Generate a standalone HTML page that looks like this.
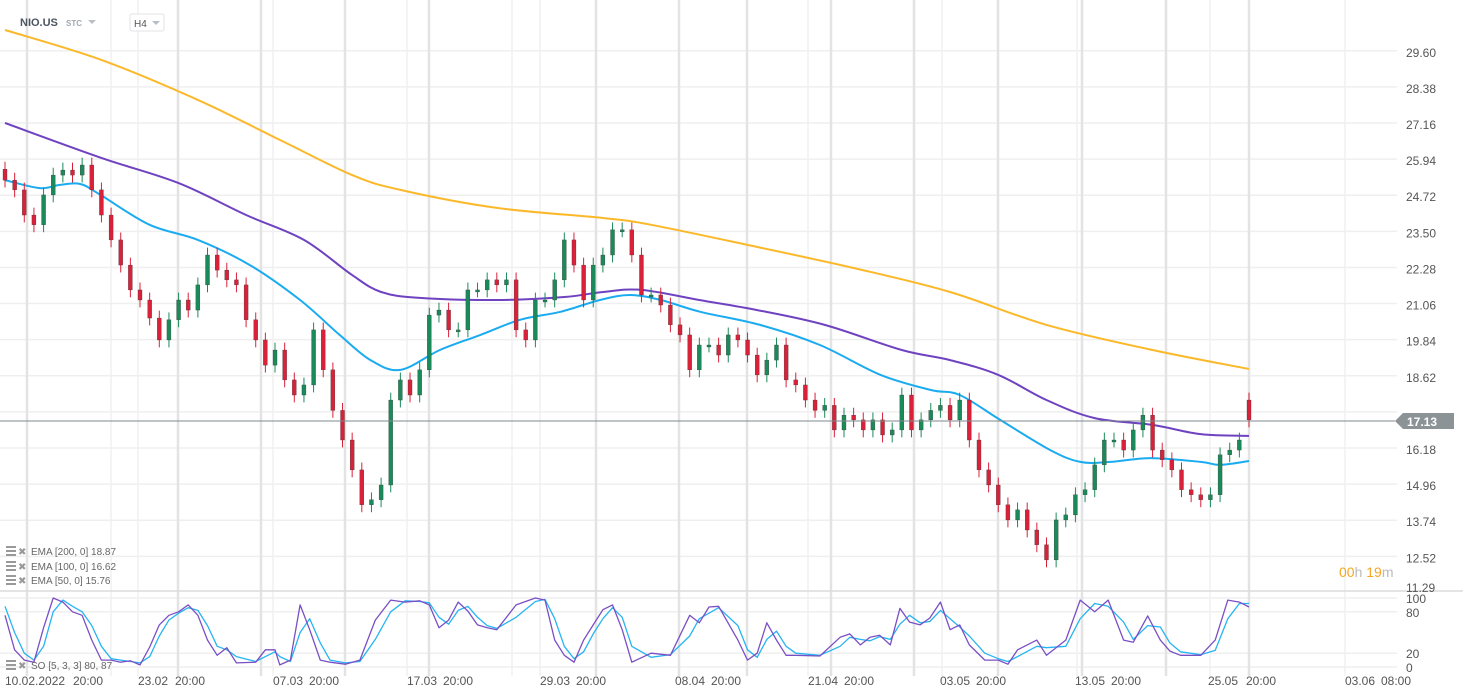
<!DOCTYPE html>
<html><head><meta charset="utf-8"><style>
html,body{margin:0;padding:0;background:#fff;}
svg{display:block;font-family:"Liberation Sans",sans-serif;}
</style></head><body>
<svg id="chart" width="1466" height="697" viewBox="0 0 1466 697" xmlns="http://www.w3.org/2000/svg">
<rect width="1466" height="697" fill="#fff"/>
<g id="grid"></g>
<g id="emas"></g>
<g id="candles"></g>
<g id="osc"></g>
<line x1="0" y1="591" x2="1463" y2="591" stroke="#dcdcdc" stroke-width="1.5"/>
<line x1="0" y1="421" x2="1395" y2="421" stroke="#7f898d" stroke-width="1"/>
<g>
<polygon points="1395,421 1403,413 1454,413 1454,429 1403,429" fill="#8b9397"/>
<text x="1407" y="426" font-size="12" font-weight="bold" fill="#fff">17.13</text>
</g>
<g id="axes"></g>
<g>
<text x="20" y="26" font-size="11" font-weight="bold" fill="#4a5560">NIO.US</text>
<text x="66" y="26" font-size="8" font-weight="bold" fill="#a0a8b0">STC</text>
<polygon points="88,20 96,20 92,24" fill="#b8bec4"/>
</g>
<g>
<rect x="130" y="14" width="34" height="17" rx="2" fill="#fff" stroke="#e0e3e6"/>
<text x="134" y="27" font-size="10" fill="#555">H4</text>
<polygon points="152,21 160,21 156,25" fill="#b8bec4"/>
</g>
<g font-size="10" fill="#666">
<g><rect x="6" y="546" width="10" height="2" fill="#999"/><rect x="6" y="550" width="10" height="2" fill="#999"/><rect x="6" y="554" width="10" height="2" fill="#999"/><text x="18" y="555" fill="#999" font-size="10">✖</text><text x="31" y="555">EMA [200,  0] 18.87</text></g>
<g><rect x="6" y="561" width="10" height="2" fill="#999"/><rect x="6" y="565" width="10" height="2" fill="#999"/><rect x="6" y="569" width="10" height="2" fill="#999"/><text x="18" y="570" fill="#999" font-size="10">✖</text><text x="31" y="570">EMA [100,  0] 16.62</text></g>
<g><rect x="6" y="575" width="10" height="2" fill="#999"/><rect x="6" y="579" width="10" height="2" fill="#999"/><rect x="6" y="583" width="10" height="2" fill="#999"/><text x="18" y="584" fill="#999" font-size="10">✖</text><text x="31" y="584">EMA [50,  0] 15.76</text></g>
<g><rect x="6" y="660" width="10" height="2" fill="#999"/><rect x="6" y="664" width="10" height="2" fill="#999"/><rect x="6" y="668" width="10" height="2" fill="#999"/><text x="18" y="669" fill="#999" font-size="10">✖</text><text x="31" y="669">SO [5, 3, 3] 80, 87</text></g>
</g>
<g font-size="14">
<text x="1339" y="577"><tspan fill="#f5a623">00</tspan><tspan fill="#bbb">h </tspan><tspan fill="#f5a623">19</tspan><tspan fill="#bbb">m</tspan></text>
</g>
</svg>
<script>
// ---- data ----
const closes = [25.23,24.90,24.05,23.72,24.73,25.40,25.57,25.40,25.74,24.90,
24.05,23.21,22.36,21.52,21.18,20.57,19.83,20.51,21.18,20.84,
21.69,22.70,22.19,21.86,21.69,20.51,19.83,18.98,19.49,18.48,
17.97,18.31,20.17,18.82,17.45,16.45,15.44,14.26,14.43,14.93,
17.80,18.48,17.97,18.82,20.67,20.84,20.17,20.17,21.52,21.52,
21.86,21.69,21.86,20.17,19.83,21.18,21.18,21.86,23.21,22.36,
21.18,22.36,22.70,23.55,23.55,22.70,21.35,21.35,21.01,20.34,
20.00,18.82,19.66,19.66,19.32,20.00,19.83,19.32,18.65,19.15,
19.66,18.48,18.31,17.80,17.45,17.62,16.79,17.29,17.13,16.79,
17.13,16.62,16.79,17.97,16.79,17.13,17.45,17.62,17.13,17.80,
16.45,15.44,14.93,14.26,13.75,14.09,13.41,12.91,12.40,13.75,
13.92,14.60,14.77,15.61,16.45,16.45,16.11,16.79,17.29,16.11,
15.78,15.44,14.77,14.60,14.43,14.60,15.95,16.11,16.45,17.13];
const firstOpen = 25.6;
const lastOpen = 17.80;
const ema200Idx = [0,10,20,28.5,36,41,51,62,67,77,88,98,108,119,129];
const ema200Val = [30.30,29.29,27.94,26.59,25.40,24.90,24.29,23.95,23.72,23.04,22.26,21.45,20.34,19.49,18.85];
const ema100Idx = [0,10,18,25,31,36,39,43,51,58,62,66,72,78,85,93,98,103,108,113,119,124,129];
const ema100Val = [27.16,25.98,25.13,24.05,23.21,22.02,21.45,21.25,21.18,21.28,21.45,21.52,21.18,20.84,20.34,19.49,19.15,18.65,17.80,17.19,16.96,16.65,16.59];
const ema50Idx = [0,3.6,5.7,7.8,9.9,15,20,25.4,30.6,34.7,37.9,41,45.1,49.3,53.4,57.6,61.7,64.8,68,72.1,78.3,84.5,90.8,96,99,103.2,108.4,111.5,114.6,118.8,124,126,129];
const ema50Val = [25.23,24.96,25.07,25.10,24.73,23.72,23.21,22.36,21.18,20.00,19.15,18.82,19.49,20.00,20.51,20.78,21.18,21.35,21.18,20.78,20.34,19.66,18.65,18.14,17.97,17.13,16.11,15.71,15.71,15.84,15.71,15.61,15.74];
const soIdx = [0,1,2,3,4,5,6,7,8,9,10,11,12,13,14,15,16,17,18,19,20,21,22,23,24,26,27,28,28.5,29.6,30.6,31.6,32.7,33.7,35.3,36.8,38.4,40,41.5,43,44,45,46,47,48,49,50,51,53,55,56,57,58,59,60,61,62,63,64,65,67,69,71,72,73,74,76,77,78,79,80,81,82,84.5,86.6,87.6,88.7,89.7,90.7,91.8,92.8,93.8,94.9,95.9,97,98,99,100,101.6,103,104,105,107,108,110,111.5,113,114.4,116,117,118.5,119.8,120.8,121.9,124,125.5,126.8,128,129];
const soK = [75,25,10,7,57,100,94,80,75,39,10,10,7,9,3,29,61,75,80,90,75,39,17,28,6,7,25,25,3,10,90,54,10,7,4,10,68,97,94,96,90,57,68,94,81,61,57,54,90,100,97,39,17,7,39,61,83,90,54,7,20,17,75,64,87,88,39,10,20,64,39,17,17,16,43,48,32,43,46,32,85,65,61,71,94,54,61,32,10,10,4,25,39,17,39,97,80,97,39,36,74,39,23,17,17,39,97,94,87];
const soD = [88,50,20,10,30,80,97,88,80,60,30,12,10,8,6,15,45,68,78,86,82,60,30,25,15,8,15,22,15,8,50,70,35,10,6,8,40,80,96,95,93,72,62,82,88,72,60,56,72,95,98,70,30,12,22,48,70,86,72,30,14,18,45,70,78,86,60,25,14,40,52,30,20,17,30,43,40,38,44,40,62,75,64,66,82,70,58,45,20,12,8,15,30,28,30,70,92,88,65,40,60,58,35,22,18,24,70,92,92];
const priceTicks = ["29.60","28.38","27.16","25.94","24.72","23.50","22.28","21.06","19.84","18.62","17.40","16.18","14.96","13.74","12.52","11.29"];
const oscTicks = [100,80,20,0];
const dateLabels = ["10.02.2022","20:00","23.02","20:00","07.03","20:00","17.03","20:00","29.03","20:00","08.04","20:00","21.04","20:00","03.05","20:00","13.05","20:00","25.05","20:00","03.06","08:00"];
const dateLabelX = [5,73,138,175,273,309,407,443,540,576,675,711,808,844,940,976,1075,1111,1208,1246,1345,1381];

// ---- scales ----
const X0 = 5, X1 = 1249;
const xs = i => X0 + i * (X1 - X0) / (closes.length - 1);
const yp = p => 448 + (16.18 - p) * 29.6;
const yo = v => 667 - v * 0.69;
const NS = "http://www.w3.org/2000/svg";
function mk(tag, attrs, parent){ const e=document.createElementNS(NS,tag); for(const k in attrs) e.setAttribute(k,attrs[k]); parent.appendChild(e); return e; }

// grid
const grid = document.getElementById('grid');
priceTicks.forEach(t=>{
  if(t==="11.29") return;
  const l = mk('line',{x1:0,x2:1397,y1:yp(+t),y2:yp(+t),stroke:'#efefef','stroke-width':1.5},grid);
  
  
});
oscTicks.forEach(t=>{
  const l = mk('line',{x1:0,x2:1397,y1:yo(t),y2:yo(t),stroke:'#efefef','stroke-width':1.5},grid);
  
  
});
[27,178,261,345,429,596,679,747,831,914,998,1082,1166,1249].forEach(x=>{
  const l = mk('line',{x1:x,x2:x,y1:0,y2:676,stroke:'#e3e3e3','stroke-width':2.5},grid);
  
  
});
[111,138,273,407,512,540,808,942,1077,1210,1345].forEach(x=>{
  const l = mk('line',{x1:x,x2:x,y1:0,y2:676,stroke:'#f0f0f0','stroke-width':1.5},grid);
  
  
});

// lines
const emas = document.getElementById('emas');
function line(idx, vals, color, name, yf, parent, w, smooth){
  const pts = idx.map((i,k)=>[xs(i), yf(vals[k])]);
  let d = 'M'+pts[0][0].toFixed(1)+','+pts[0][1].toFixed(1);
  if(smooth){
    for(let k=0;k<pts.length-1;k++){
      const p0=pts[Math.max(0,k-1)], p1=pts[k], p2=pts[k+1], p3=pts[Math.min(pts.length-1,k+2)];
      const c1=[p1[0]+(p2[0]-p0[0])/6, p1[1]+(p2[1]-p0[1])/6];
      const c2=[p2[0]-(p3[0]-p1[0])/6, p2[1]-(p3[1]-p1[1])/6];
      d += ' C'+c1[0].toFixed(1)+','+c1[1].toFixed(1)+' '+c2[0].toFixed(1)+','+c2[1].toFixed(1)+' '+p2[0].toFixed(1)+','+p2[1].toFixed(1);
    }
  } else {
    for(let k=1;k<pts.length;k++) d += ' L'+pts[k][0].toFixed(1)+','+pts[k][1].toFixed(1);
  }
  const p = mk('path',{d:d,fill:'none',stroke:color,'stroke-width':w,'stroke-linejoin':'round'},parent);
  
  
}
line(ema200Idx, ema200Val, '#fbb829', 'ema-200-line', yp, emas, 2, true);
line(ema100Idx, ema100Val, '#6f42c1', 'ema-100-line', yp, emas, 2, true);
line(ema50Idx, ema50Val, '#1aabf0', 'ema-50-line', yp, emas, 2, true);

// candles
const cg = document.getElementById('candles');
closes.forEach((c,i)=>{
  const o = i===0 ? firstOpen : (i===closes.length-1 ? lastOpen : closes[i-1]);
  const up = c >= o;
  const col = up ? '#1b8a5a' : '#d9213a';
  const x = xs(i);
  const hi = Math.max(o,c) + 0.25, lo = Math.min(o,c) - 0.25;
  const g = mk('g',{},cg);
  
  
  mk('line',{x1:x,x2:x,y1:yp(hi),y2:yp(lo),stroke:col,'stroke-width':1},g);
  const top = yp(Math.max(o,c)), h = Math.max(2, Math.abs(yp(o)-yp(c)));
  mk('rect',{x:x-2,y:top,width:4,height:h,fill:col,stroke:'#333','stroke-width':0.3},g);
});

// oscillator
const og = document.getElementById('osc');
line(soIdx, soD, '#27b4f2', 'stochastic-d-line', yo, og, 1.3, false);
line(soIdx, soK, '#7a4fc4', 'stochastic-k-line', yo, og, 1.3, false);

// axes labels
const ax = document.getElementById('axes');
priceTicks.forEach(t=>{
  if(t==="17.40") return;
  const y = t==="11.29" ? 592 : yp(+t)+6;
  const e = mk('text',{x:1406,y:y,'font-size':12,fill:'#555'},ax);
  e.textContent = t;
  
  
});
oscTicks.forEach(t=>{
  const e = mk('text',{x:1406,y:yo(t)+5,'font-size':12,fill:'#555'},ax);
  e.textContent = t;
  
  
});
dateLabels.forEach((t,k)=>{
  const e = mk('text',{x:dateLabelX[k],y:685,'font-size':12,fill:'#555'},ax);
  e.textContent = t;
  
  
});
</script>
</body></html>
